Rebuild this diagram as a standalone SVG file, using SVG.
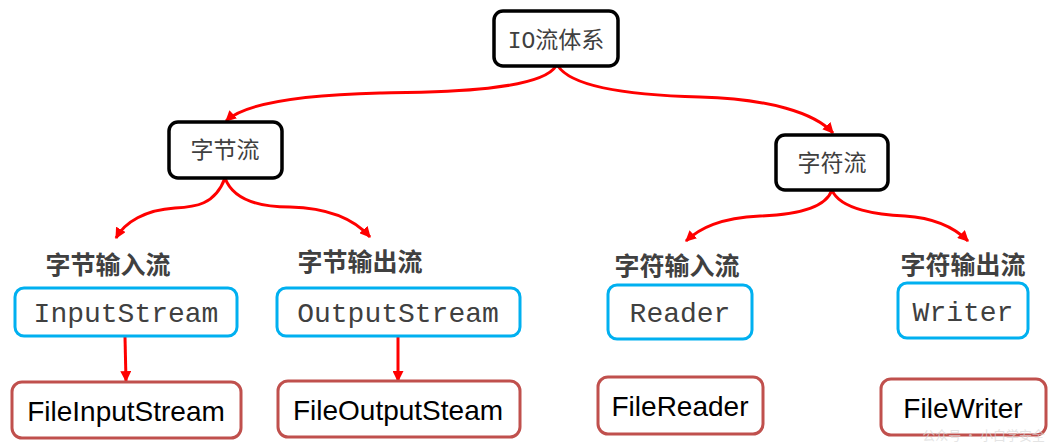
<svg xmlns="http://www.w3.org/2000/svg" width="1056" height="447" viewBox="0 0 1056 447">
<defs>
<marker id="ah" viewBox="0 0 10 10" refX="9" refY="5" markerWidth="11" markerHeight="11" markerUnits="userSpaceOnUse" orient="auto">
<path d="M0,0 L10,5 L0,10 z" fill="#ff0000"/>
</marker>
<style>
.blk{fill:#fff;stroke:#000;stroke-width:3.5}
.blu{fill:#fff;stroke:#00b0f0;stroke-width:3}
.brn{fill:#fff;stroke:#c0504d;stroke-width:3}
.t1{font-family:"Liberation Mono","Noto Sans CJK SC",monospace;font-size:23px;fill:#404040;text-anchor:middle}
.t2{font-family:"Noto Sans CJK SC",sans-serif;font-size:23px;fill:#404040;text-anchor:middle}
.lb{font-family:"Noto Sans CJK SC",sans-serif;font-size:25px;font-weight:bold;fill:#404040;text-anchor:middle}
.mono{font-family:"Liberation Mono",monospace;font-size:28px;fill:#404040;text-anchor:middle}
.cal{font-family:"Liberation Sans",Arial,sans-serif;font-size:28px;fill:#000;text-anchor:middle}
.con{fill:none;stroke:#ff0000;stroke-width:3;marker-end:url(#ah)}
</style>
</defs>
<rect width="1056" height="447" fill="#fff"/>
<g id="connectors">
<path class="con" d="M556,66 C540,92 430,92 380,93 C300,95 245,103 226,121"/>
<path class="con" d="M558,66 C575,92 660,96 700,97 C770,99 815,113 833,133"/>
<path class="con" d="M225,178 C215,205 195,207 175,208 C145,210 125,222 116,238"/>
<path class="con" d="M225,178 C235,205 270,207 290,207 C330,208 355,220 370,237"/>
<path class="con" d="M832,190 C825,210 790,215 760,216 C720,218 700,228 686,241"/>
<path class="con" d="M832,190 C840,210 880,215 905,216 C935,218 955,228 968,241"/>
<path class="con" d="M125,337 L126,381"/>
<path class="con" d="M398,337 L398,381"/>
</g>
<g id="io"><rect class="blk" x="494" y="11" width="124" height="55" rx="9"/><text class="t1" x="556" y="48">IO流体系</text></g>
<g id="byte"><rect class="blk" x="169" y="122" width="113" height="56" rx="9"/><text class="t2" x="225" y="158">字节流</text></g>
<g id="char"><rect class="blk" x="776" y="135" width="112" height="55" rx="9"/><text class="t2" x="832" y="171">字符流</text></g>
<g id="lbl1"><text class="lb" x="108" y="274">字节输入流</text></g>
<g id="lbl2"><text class="lb" x="360" y="271">字节输出流</text></g>
<g id="lbl3"><text class="lb" x="677" y="275">字符输入流</text></g>
<g id="lbl4"><text class="lb" x="963" y="274">字符输出流</text></g>
<g id="inputstream"><rect class="blu" x="15" y="288" width="222" height="48" rx="9"/><text class="mono" x="126" y="322">InputStream</text></g>
<g id="outputstream"><rect class="blu" x="277" y="288" width="243" height="48" rx="9"/><text class="mono" x="398" y="322">OutputStream</text></g>
<g id="reader"><rect class="blu" x="608" y="285" width="144" height="54" rx="9"/><text class="mono" x="680" y="322">Reader</text></g>
<g id="writer"><rect class="blu" x="898" y="283" width="130" height="55" rx="9"/><text class="mono" x="963" y="321">Writer</text></g>
<g id="fileinputstream"><rect class="brn" x="12" y="382" width="229" height="56" rx="10"/><text class="cal" x="126" y="421">FileInputStream</text></g>
<g id="fileoutputsteam"><rect class="brn" x="278" y="381" width="242" height="56" rx="10"/><text class="cal" x="398" y="420">FileOutputSteam</text></g>
<g id="filereader"><rect class="brn" x="598" y="377" width="165" height="57" rx="10"/><text class="cal" x="680" y="416">FileReader</text></g>
<g id="filewriter"><rect class="brn" x="881" y="379" width="165" height="56" rx="10"/><text class="cal" x="963" y="418">FileWriter</text></g>
<text x="1045" y="440" font-family="Noto Sans CJK SC,sans-serif" font-size="13" fill="#d8d8d8" fill-opacity="0.7" text-anchor="end">公众号 · 小白学安全</text>
</svg>
